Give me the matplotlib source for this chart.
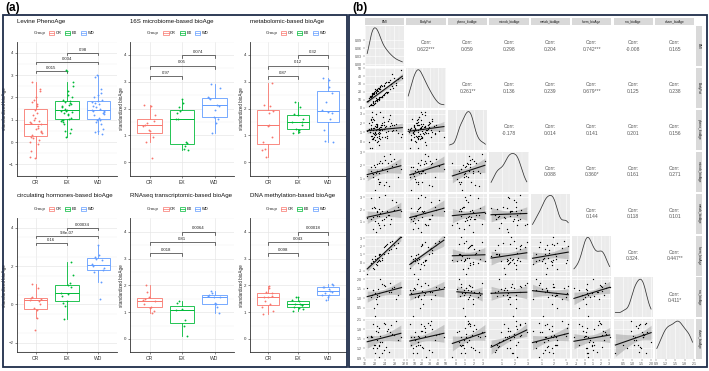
import numpy as np
import matplotlib
matplotlib.use("Agg")
import matplotlib.pyplot as plt
from matplotlib.patches import Rectangle, Patch
from matplotlib.lines import Line2D

plt.rcParams['font.family'] = ['Liberation Sans', 'DejaVu Sans']

W, H = 709, 371

groups = ['CR', 'EX', 'WD']
group_colors = ['#F8766D', '#00BA38', '#619CFF']

# subjects 0-35 have omics data (12 CR, 12 EX, 12 WD), the rest only clinical data
subject_group = ['CR'] * 12 + ['EX'] * 12 + ['WD'] * 12 + ['CR'] * 20 + ['EX'] * 22 + ['WD'] * 18

bmi = [19.4, 21.0, 22.2, 18.6, 16.9, 21.8, 20.0, 20.5, 22.9, 19.3, 18.8, 21.3,
       21.0, 23.9, 19.6, 24.5, 22.2, 20.1, 21.7, 18.4, 25.9, 22.8, 20.9, 21.5,
       27.8, 21.9, 26.1, 28.6, 30.6, 24.3, 25.2, 29.5, 23.8, 27.0, 26.4, 25.0,
       18.2, 19.0, 17.5, 20.1, 19.6, 18.8, 21.5, 22.3, 17.9, 19.3, 20.7, 23.9, 18.5, 19.8,
       21.0, 24.8, 17.3, 20.4, 22.9, 18.9,
       19.4, 20.2, 18.1, 21.8, 17.8, 19.1, 22.6, 20.9, 18.6, 23.4, 19.7, 21.2, 25.3, 18.3,
       20.5, 19.9, 24.1, 17.6, 22.1, 20.0, 26.8, 18.7,
       20.3, 21.7, 19.5, 23.1, 18.4, 22.5, 27.5, 19.2, 24.5, 21.1, 26.2, 20.8, 28.8, 19.0,
       23.7, 31.2, 22.0, 20.6]

bodyfat = [8, 22, 14, 15, 9, 25, 6, 19, 13, 4, 16, 11,
           11, 29, 17, 20, 24, 8, 14, 5, 33, 15, 21, 12,
           38, 24, 23, 31, 48, 18, 33, 36, 27, 42, 30, 20,
           14, 4, 12, 6, 20, 16, 10, 27, 3, 18, 9, 16, 13, 5, 24, 19, 8, 22, 13, 17,
           6, 21, 15, 11, 2, 17, 29, 9, 14, 16, 19, 25, 20, 4, 10, 23, 31, 12, 26, 8, 27, 18,
           20, 11, 18, 28, 14, 13, 25, 7, 32, 21, 35, 10, 29, 15, 17, 37, 24, 12]

pheno = [0.9, 1.6, 0.3, 2.4, 1.1, -0.4, 0.7, 1.9, 0.5, 1.3, 2.7, 0.1,
         1.4, 2.1, 0.8, 1.7, 3.2, 1.0, 0.4, 1.5, 2.5, 1.2, 1.9, 0.6,
         1.8, 1.0, 2.9, 1.3, 0.5, 1.6, 2.2, 0.9, 1.4, 1.1, 2.0, 0.35,
         -0.7, -0.65, -0.1, 0.2, 0.45, 0.6, 0.85, 0.95, 1.0, 0.4, 1.7, 1.8, 2.3, 1.45,
         0.0, 0.65, 1.2, 0.8, 2.0, 0.25,
         0.25, 0.95, 1.05, 1.3, 1.35, 1.45, 1.6, 1.75, 1.8, 2.7, 2.3, 0.9, 1.1, 1.4,
         1.55, 1.65, 0.5, 2.0, 1.25, 0.98, 1.85, 3.25,
         3.0, 1.45, 1.5, 1.75, 0.6, 1.85, 1.2, 2.4, 1.0, 1.35, 1.7, 0.45, 1.9, 2.1,
         1.4, 0.8, 1.55, 1.25]

nan = np.nan
microb = [1.35, 2.1, 0.75, 1.55, 1.2, 2.15, 0.15, 1.45, 1.75, 1.15, 1.4, 0.95,
          1.6, 0.5, 2.05, 0.72, 2.35, 1.85, 0.6, 1.9, 0.47, 2.2, 1.6, 0.75,
          2.45, 1.45, 2.9, 2.1, 1.7, 2.4, 2.15, 1.1, 2.75, 1.95, 2.35, 1.6]
metab = [0.45, 1.85, 0.5, 2.95, 1.35, 0.75, 2.1, 0.2, 1.9, 1.4, 2.15, 0.95,
         1.5, 1.2, 2.25, 1.4, 1.75, 1.1, 2.05, 1.25, 1.6, 1.12, 1.8, 1.5,
         1.95, 3.05, 0.8, 2.6, 1.87, 3.15, 1.6, 2.25, 0.75, 2.8, 1.2, 1.85]
horm = [0.25, -0.3, 1.05, 0.0, -1.35, 0.35, 0.85, -0.2, 0.3, -0.7, 0.4, 0.2,
        0.6, 1.0, -0.75, 2.2, 0.2, 0.45, 1.1, -0.1, 1.55, 0.55, 0.1, 0.9,
        2.1, 0.3, 2.5, 1.8, 3.1, 2.0, 1.15, 2.4, 1.9, 2.6, 1.7, 2.3]
rna = [1.45, 1.2, 2.0, 1.05, 1.55, nan, 1.3, 0.95, 1.75, 1.42, 1.15, 1.5,
       1.07, nan, 0.5, 1.4, nan, 0.1, 1.1, nan, 1.35, nan, 0.7, nan,
       1.6, 1.3, 1.78, 0.95, 1.58, 1.65, nan, 1.2, 1.72, 1.55, 1.35, nan]
dnam = [1.2, 1.9, 1.4, 1.6, 1.55, 0.92, 1.3, 1.75, 1.05, 1.97, 1.55, 1.7,
        1.45, 1.15, 1.3, 1.25, 1.58, 1.05, 1.3, 1.55, 1.1, 1.4, 1.2, 1.28,
        1.62, 1.85, 1.7, 2.05, 1.55, 1.95, 1.8, 1.45, 2.0, 1.65, 1.93, 1.75]

# ---- panel (a) ----
box_titles = ["Levine PhenoAge", "16S microbiome-based bioAge", "metabolomic-based bioAge",
              "circulating hormones-based bioAge", "RNAseq transcriptomic-based bioAge",
              "DNA methylation-based bioAge"]
box_values = [pheno, microb, metab, horm, rna, dnam]
# p-values for CR-EX, CR-WD, EX-WD
box_pvals = [["0.015", "0.034", "0.98"],
             ["0.97", "0.05", "0.074"],
             ["0.87", "0.12", "0.32"],
             ["0.16", "9.8e-07", "0.00034"],
             ["0.018", "0.81", "0.0064"],
             ["0.098", "0.043", "0.00018"]]
box_ylims = [(-1.23, 4.32), (-0.19, 4.25), (-0.19, 4.25), (-2.28, 4.42), (-0.19, 4.28), (-0.19, 4.28)]
box_yticks = [[-1, 0, 1, 2, 3, 4], [0, 1, 2, 3, 4], [0, 1, 2, 3, 4],
              [-2, 0, 2, 4], [0, 1, 2, 3, 4], [0, 1, 2, 3, 4]]
bracket_pairs = [(1, 2), (1, 3), (2, 3)]
bracket_y = [3.2, 3.6, 4.0]

fig = plt.figure(figsize=(W / 100, H / 100), dpi=100)


def px_axes(x, y, w, h):
    return fig.add_axes([x / W, 1 - (y + h) / H, w / W, h / H])


box_cols = [(17, 100), (130, 104), (250, 96)]
box_rows = [41.6, 218.3]
box_h = 134
ylab_x = [-0.097, -0.06, -0.065]

for k in range(6):
    r, c = divmod(k, 3)
    x0, w = box_cols[c]
    ax = px_axes(x0, box_rows[r], w, box_h)
    vals = np.asarray(box_values[k], float)
    grp = np.array(subject_group[:len(vals)])
    ax.set_xlim(0.4, 3.6)
    ax.set_ylim(*box_ylims[k])
    ax.set_yticks(box_yticks[k])
    ax.set_yticks(np.arange(box_yticks[k][0] - 0.5, 4.6, 1.0), minor=True)
    ax.grid(True, which='major', color='#E5E5E5', lw=0.45)
    ax.grid(True, which='minor', axis='y', color='#F2F2F2', lw=0.35)
    ax.set_axisbelow(True)
    for gi, (name, col) in enumerate(zip(groups, group_colors)):
        v = vals[grp == name]
        v = v[~np.isnan(v)]
        ax.boxplot(v, positions=[gi + 1], widths=0.75, showfliers=False, showcaps=False,
                   patch_artist=True,
                   boxprops=dict(facecolor='white', edgecolor=col, lw=0.6),
                   medianprops=dict(color=col, lw=0.7),
                   whiskerprops=dict(color=col, lw=0.6))
        jit = ((np.arange(len(v)) * 0.618034) % 1 - 0.5) * 0.4
        ax.scatter(gi + 1 + jit, v, s=1.8, color=col, lw=0, zorder=3)
    for (a, b), yb, lab in zip(bracket_pairs, bracket_y, box_pvals[k]):
        t = 0.11
        ax.plot([a, a, b, b], [yb - t, yb, yb, yb - t], color='#333333', lw=0.5)
        ax.text((a + b) / 2, yb + 0.05, lab, ha='center', va='bottom', fontsize=3.1, color='#222222')
    ax.set_xticks([1, 2, 3])
    ax.set_xticklabels(groups)
    ax.tick_params(axis='x', labelsize=3.6, length=1.5, width=0.4, pad=1.5, colors='#333333')
    ax.tick_params(axis='y', labelsize=3.2, length=1.5, width=0.4, pad=1, colors='#333333')
    ax.tick_params(which='minor', length=0)
    for s in ['top', 'right']:
        ax.spines[s].set_visible(False)
    for s in ['left', 'bottom']:
        ax.spines[s].set_color('#333333')
        ax.spines[s].set_linewidth(0.6)
    ax.set_ylabel("standardized bioAge", fontsize=3.3, color='#222222')
    ax.yaxis.set_label_coords(ylab_x[c], 0.5)
    top_gap = 20.6 if r == 0 else 22.3
    ax.text(0, 1 + top_gap / box_h, box_titles[k], transform=ax.transAxes, ha='left', va='center',
            fontsize=4.4, color='#111111')
    leg_gap = 8.3 if r == 0 else 9.0
    ax.text(0.165, 1 + leg_gap / box_h, "Group", transform=ax.transAxes, ha='left', va='center',
            fontsize=3.2, color='#222222')
    handles = [(Patch(facecolor='white', edgecolor=col, lw=0.5), Line2D([], [], color=col, lw=0.5))
               for col in group_colors]
    ax.legend(handles, groups, loc='center left', bbox_to_anchor=(0.32, 1 + leg_gap / box_h),
              ncol=3, frameon=False, fontsize=2.9, handlelength=1.3, handleheight=0.9,
              columnspacing=0.9, handletextpad=0.4, borderpad=0, borderaxespad=0)

# ---- panel (b) ----
pair_names = ['BMI', 'BodyFat', 'pheno_bioAge', 'microb_bioAge', 'metab_bioAge',
              'horm_bioAge', 'rna_bioAge', 'dnam_bioAge']
pair_ticks = [[16, 20, 24, 28, 32], [0, 10, 20, 30, 40, 50], [0, 1, 2, 3], [1, 2, 3], [1, 2, 3],
              [-1, 0, 1, 2, 3], [0.5, 1.0, 1.5, 2.0], [0.9, 1.2, 1.5, 1.8, 2.1]]
pair_ticklabels = [['16', '20', '24', '28', '32'], ['0', '10', '20', '30', '40', '50'],
                   ['0', '1', '2', '3'], ['1', '2', '3'], ['1', '2', '3'],
                   ['-1', '0', '1', '2', '3'], ['0.5', '1.0', '1.5', '2.0'],
                   ['0.9', '1.2', '1.5', '1.8', '2.1']]
density_ticks = [0.0, 0.03, 0.06, 0.09]
density_ticklabels = ['0.00', '0.03', '0.06', '0.09']
corr_labels = [["0.622***", "0.059", "0.298", "0.204", "0.742***", "-0.008", "0.165"],
               ["0.261**", "0.136", "0.239", "0.679***", "0.125", "0.238"],
               ["-0.178", "0.014", "0.141", "0.201", "0.156"],
               ["0.088", "0.360*", "0.161", "0.271"],
               ["0.144", "0.118", "0.101"],
               ["0.324.", "0.447**"],
               ["0.411*"]]

n_sub = len(subject_group)
pair_data = []
for v in [bmi, bodyfat, pheno, microb, metab, horm, rna, dnam]:
    a = np.full(n_sub, np.nan)
    a[:len(v)] = v
    pair_data.append(a)

lims = []
for a in pair_data:
    lo, hi = np.nanmin(a), np.nanmax(a)
    pad = 0.05 * (hi - lo)
    lims.append((lo - pad, hi + pad))


def kde(v, grid):
    sd = v.std(ddof=1)
    q75, q25 = np.percentile(v, [75, 25])
    bw = 0.9 * min(sd, (q75 - q25) / 1.34) * len(v) ** -0.2
    z = (grid[:, None] - v[None, :]) / bw
    return np.exp(-0.5 * z ** 2).sum(1) / (len(v) * bw * np.sqrt(2 * np.pi))


cell_x0, cell_pitch_x, cell_w = 365, 41.43, 39.3
cell_y0, cell_pitch_y, cell_h = 26, 41.9, 40
npv = len(pair_names)
tick_kw = dict(labelsize=2.5, length=1.2, width=0.3, pad=0.8, colors='#4D4D4D')

for i in range(npv):
    for j in range(npv):
        ax = px_axes(cell_x0 + j * cell_pitch_x, cell_y0 + i * cell_pitch_y, cell_w, cell_h)
        for s in ax.spines.values():
            s.set_visible(False)
        ax.set_xlim(*lims[j])
        ax.set_xticks(pair_ticks[j])
        ax.set_xticks([(a + b) / 2 for a, b in zip(pair_ticks[j][:-1], pair_ticks[j][1:])], minor=True)
        if i > j:
            ax.set_facecolor('#EBEBEB')
            x, y = pair_data[j], pair_data[i]
            ok = ~np.isnan(x) & ~np.isnan(y)
            x, y = x[ok], y[ok]
            ax.set_ylim(*lims[i])
            ax.set_yticks(pair_ticks[i])
            b, a0 = np.polyfit(x, y, 1)
            xs = np.linspace(x.min(), x.max(), 60)
            yhat = a0 + b * xs
            res = y - (a0 + b * x)
            s_err = np.sqrt((res ** 2).sum() / (len(x) - 2))
            se = s_err * np.sqrt(1 / len(x) + (xs - x.mean()) ** 2 / ((x - x.mean()) ** 2).sum())
            ax.fill_between(xs, yhat - 2.0 * se, yhat + 2.0 * se, color='#9E9E9E', alpha=0.5, lw=0, zorder=2)
            ax.scatter(x, y, s=0.9, color='black', lw=0, zorder=3)
            ax.plot(xs, yhat, color='#111111', lw=0.8, zorder=4)
        elif i == j:
            ax.set_facecolor('#EBEBEB')
            v = pair_data[i][~np.isnan(pair_data[i])]
            grid = np.linspace(v.min(), v.max(), 200)
            d = kde(v, grid)
            ax.plot(grid, d, color='#333333', lw=0.55)
            m = d.max()
            ax.set_ylim(-0.05 * m, 1.05 * m)
            ax.set_yticks(density_ticks if i == 0 else [])
        else:
            ax.set_facecolor('white')
            ax.set_yticks([])
            ax.set_xticks([])
            ax.set_xticks([], minor=True)
            ax.text(0.5, 0.5, "Corr:\n" + corr_labels[i][j - i - 1], transform=ax.transAxes,
                    ha='center', va='center', fontsize=3.6, color='#595959', linespacing=1.4)
        if i >= j:
            ax.grid(True, which='major', color='white', lw=0.4)
            ax.grid(True, which='minor', axis='x', color='white', lw=0.2)
            ax.set_axisbelow(True)
        ax.tick_params(which='minor', length=0)
        ax.tick_params(**tick_kw)
        if j == 0:
            if i == 0:
                ax.set_yticklabels(density_ticklabels)
            else:
                ax.set_yticklabels(pair_ticklabels[i])
        else:
            ax.tick_params(axis='y', left=False, labelleft=False)
        if i == npv - 1:
            ax.set_xticklabels(pair_ticklabels[j])
        else:
            ax.tick_params(axis='x', bottom=False, labelbottom=False)

# strips
for j, name in enumerate(pair_names):
    sx = px_axes(cell_x0 + j * cell_pitch_x, 18.3, cell_w, 6.8)
    sx.set_facecolor('#D9D9D9')
    sx.set_xticks([])
    sx.set_yticks([])
    for s in sx.spines.values():
        s.set_visible(False)
    sx.text(0.5, 0.5, name, ha='center', va='center', fontsize=2.3, color='#1A1A1A', transform=sx.transAxes)
for i, name in enumerate(pair_names):
    sy = px_axes(cell_x0 + 7 * cell_pitch_x + cell_w + 1.5, cell_y0 + i * cell_pitch_y, 6.2, cell_h)
    sy.set_facecolor('#D9D9D9')
    sy.set_xticks([])
    sy.set_yticks([])
    for s in sy.spines.values():
        s.set_visible(False)
    sy.text(0.5, 0.5, name, ha='center', va='center', rotation=-90, fontsize=2.3, color='#1A1A1A',
            transform=sy.transAxes)

# frames and panel letters
for (fx0, fx1) in [(3, 347), (349, 707)]:
    fig.patches.append(Rectangle((fx0 / W, 1 - 367 / H), (fx1 - fx0) / W, (367 - 15) / H,
                                 transform=fig.transFigure, fill=False, edgecolor='#1F2D4A', lw=1.3))
fig.text(5 / W, 1 - 7.5 / H, "(a)", fontsize=8.5, fontweight='bold', va='center', ha='left')
fig.text(352 / W, 1 - 7.5 / H, "(b)", fontsize=8.5, fontweight='bold', va='center', ha='left')

fig.savefig("out.png", dpi=100)
